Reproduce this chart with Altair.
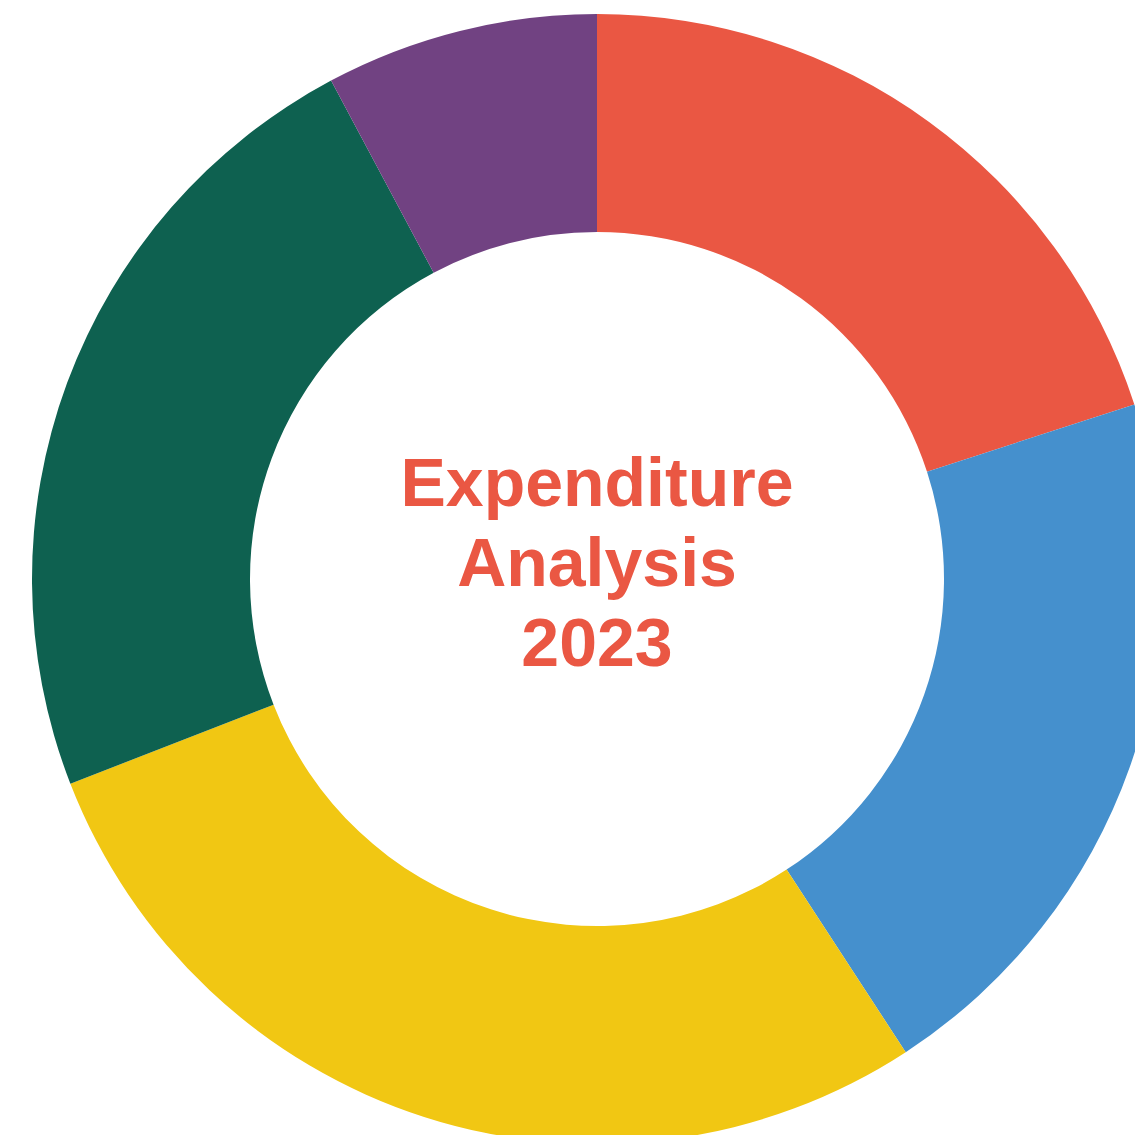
import altair as alt
import pandas as pd

categories = ["Housing", "Transportation", "Food", "Healthcare", "Entertainment"]
values = [20.0, 20.8, 28.3, 23.1, 7.8]
colors = ["#EA5743", "#4590CD", "#F1C713", "#0E6150", "#714282"]
title_lines = ["Expenditure", "Analysis", "2023"]

df = pd.DataFrame({"category": categories, "value": values, "idx": list(range(len(categories)))})

arc = alt.Chart(df).mark_arc(radius=565, radius2=347).encode(
    theta=alt.Theta("value:Q", stack=True),
    color=alt.Color("category:N", scale=alt.Scale(domain=categories, range=colors), legend=None),
    order=alt.Order("idx:Q"),
    x=alt.value(589),
    y=alt.value(571),
)

text = alt.Chart(pd.DataFrame({"t": [title_lines]})).mark_text(
    font="Liberation Sans", fontWeight="bold", fontSize=68, color="#EA5743",
    lineHeight=80, align="center", baseline="middle",
).encode(text="t:N", x=alt.value(589), y=alt.value(478))

chart = alt.layer(arc, text).properties(
    width=1127, height=1127, padding=0,
    autosize=alt.AutoSizeParams(type="none"),
).configure_view(stroke=None)

chart.save("out.html", embed_options={"renderer": "svg", "actions": False})
